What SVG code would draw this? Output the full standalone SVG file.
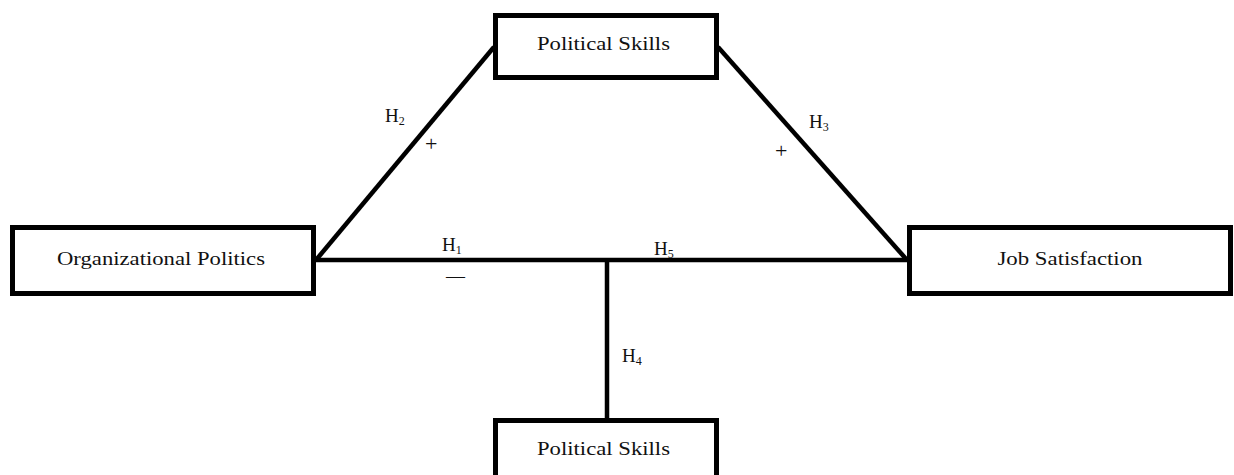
<svg xmlns="http://www.w3.org/2000/svg" width="1234" height="475" viewBox="0 0 1234 475">
<style>
.box{fill:#fff;stroke:#000;stroke-width:5}
.t{font-family:"Liberation Serif","Times New Roman",serif;font-size:19px;fill:#111;text-anchor:middle}
.h{font-family:"Liberation Serif","Times New Roman",serif;font-size:19px;fill:#111}
.p{font-family:"Liberation Serif","Times New Roman",serif;font-size:22px;fill:#111}
.s{font-size:12px}
.c{stroke:#000;stroke-width:4.5;fill:none}
</style>
<rect width="1234" height="475" fill="#fff"/>
<g id="connectors">
<line class="c" x1="316" y1="260" x2="907" y2="260"/>
<line class="c" x1="607" y1="260" x2="607" y2="418"/>
<line class="c" x1="316" y1="260" x2="494" y2="47"/>
<line class="c" x1="718" y1="47" x2="907" y2="260"/>
</g>
<g id="political-skills-top">
<rect class="box" x="495.5" y="15.5" width="221" height="62"/>
<text class="t" x="603.5" y="50" textLength="133" lengthAdjust="spacingAndGlyphs">Political Skills</text>
</g>
<g id="organizational-politics">
<rect class="box" x="12.5" y="227.5" width="301" height="66"/>
<text class="t" x="161" y="265" textLength="208" lengthAdjust="spacingAndGlyphs">Organizational Politics</text>
</g>
<g id="job-satisfaction">
<rect class="box" x="909.5" y="227.5" width="321" height="66"/>
<text class="t" x="1070" y="265" textLength="145" lengthAdjust="spacingAndGlyphs">Job Satisfaction</text>
</g>
<g id="political-skills-bottom">
<rect class="box" x="495.5" y="420.5" width="221" height="70"/>
<text class="t" x="603.5" y="455" textLength="133" lengthAdjust="spacingAndGlyphs">Political Skills</text>
</g>
<g id="labels">
<text class="h" x="385" y="122">H<tspan class="s" dy="3">2</tspan></text>
<text class="p" x="425" y="151">+</text>
<text class="h" x="809" y="128">H<tspan class="s" dy="3">3</tspan></text>
<text class="p" x="775" y="158">+</text>
<text class="h" x="442" y="251">H<tspan class="s" dy="3">1</tspan></text>
<text class="h" x="446" y="282">—</text>
<text class="h" x="654" y="255">H<tspan class="s" dy="3">5</tspan></text>
<text class="h" x="622" y="362">H<tspan class="s" dy="3">4</tspan></text>
</g>
</svg>
